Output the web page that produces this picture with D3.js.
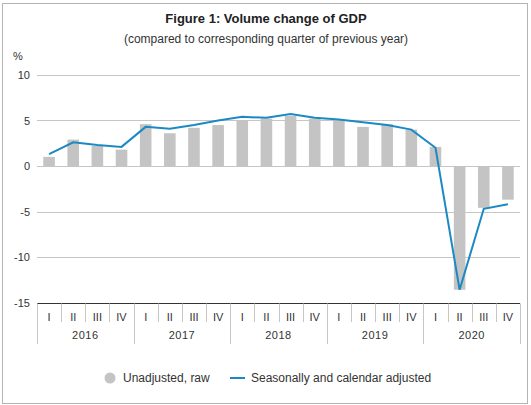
<!DOCTYPE html>
<html>
<head>
<meta charset="utf-8">
<script src="https://cdn.jsdelivr.net/npm/d3@7"></script>
<style>
  body { margin: 0; background: #fff; }
  svg { display: block; font-family: "Liberation Sans", Arial, sans-serif; }
</style>
</head>
<body>
<div id="chart"></div>
<script>
const years = ['2016', '2017', '2018', '2019', '2020'];
const quarters = ['I', 'II', 'III', 'IV'];
const raw = [1.0, 2.9, 2.2, 1.8, 4.6, 3.6, 4.2, 4.5, 5.0, 5.2, 5.5, 5.2, 5.0, 4.3, 4.6, 4.0, 2.1, -13.6, -4.6, -3.7];
const adjusted = [1.3, 2.6, 2.3, 2.1, 4.3, 4.1, 4.5, 5.0, 5.4, 5.3, 5.7, 5.3, 5.1, 4.8, 4.5, 4.0, 2.0, -13.6, -4.7, -4.2];
const yTicks = [10, 5, 0, -5, -10, -15];

const width = 531, height = 405;
const margin = {top: 75, right: 11, bottom: 102.5, left: 37};

const keys = [];
years.forEach(y => quarters.forEach(q => keys.push(`${y} ${q}`)));

const x = d3.scaleBand()
    .domain(keys)
    .range([margin.left, width - margin.right])
    .paddingInner(0.52)
    .paddingOuter(0.26);

const y = d3.scaleLinear()
    .domain([-15, 10])
    .range([height - margin.bottom, margin.top]);

const svg = d3.select('#chart').append('svg')
    .attr('width', width)
    .attr('height', height);

// frame
svg.append('rect')
    .attr('x', 2.5).attr('y', 3.5)
    .attr('width', 525).attr('height', 400)
    .attr('fill', 'none')
    .attr('stroke', '#b4b4b4');

svg.append('text')
    .attr('x', 266).attr('y', 23)
    .attr('text-anchor', 'middle')
    .attr('font-size', 13)
    .attr('font-weight', 'bold')
    .attr('fill', '#222')
    .text('Figure 1: Volume change of GDP');

svg.append('text')
    .attr('x', 266).attr('y', 43)
    .attr('text-anchor', 'middle')
    .attr('font-size', 12)
    .attr('fill', '#333')
    .text('(compared to corresponding quarter of previous year)');

svg.append('text')
    .attr('x', 13).attr('y', 60)
    .attr('font-size', 11)
    .attr('fill', '#333')
    .text('%');

// grid
svg.append('g')
  .selectAll('line')
  .data(yTicks.filter(d => d !== -15))
  .enter().append('line')
    .attr('x1', margin.left).attr('x2', width - margin.right)
    .attr('y1', d => Math.round(y(d)) + 0.5).attr('y2', d => Math.round(y(d)) + 0.5)
    .attr('stroke', '#c6c6c6');

// plain hyphen for negatives, like the original
const yAxis = d3.axisLeft(y).tickValues(yTicks).tickSize(0).tickPadding(7)
    .tickFormat(d => String(d));
svg.append('g')
    .attr('transform', `translate(${margin.left},0)`)
    .call(yAxis)
    .call(g => g.select('.domain').remove())
    .call(g => g.selectAll('text').attr('font-size', 11).attr('fill', '#333').attr('font-family', null));

// bars
svg.append('g')
  .selectAll('rect')
  .data(raw)
  .enter().append('rect')
    .attr('x', (d, i) => x(keys[i]))
    .attr('width', x.bandwidth())
    .attr('y', d => y(Math.max(0, d)))
    .attr('height', d => Math.abs(y(d) - y(0)))
    .attr('fill', '#c4c4c4');

// line
const line = d3.line()
    .x((d, i) => x(keys[i]) + x.bandwidth() / 2)
    .y(d => y(d));

svg.append('path')
    .datum(adjusted)
    .attr('d', line)
    .attr('fill', 'none')
    .attr('stroke', '#1b8ac4')
    .attr('stroke-width', 2);

// x axis
const axisY = Math.round(y(-15)) + 0.5;
const step = x.step();
const x0 = margin.left;

svg.append('line')
    .attr('x1', x0).attr('x2', width - margin.right)
    .attr('y1', axisY).attr('y2', axisY)
    .attr('stroke', '#333');

const sep = svg.append('g');
d3.range(keys.length + 1).forEach(i => {
    const xp = Math.round(x0 + i * step) + 0.5;
    sep.append('line')
        .attr('x1', xp).attr('x2', xp)
        .attr('y1', axisY).attr('y2', i % 4 === 0 ? 344 : 322)
        .attr('stroke', '#c6c6c6');
});

svg.append('g')
  .selectAll('text')
  .data(keys)
  .enter().append('text')
    .attr('x', d => x(d) + x.bandwidth() / 2)
    .attr('y', 320.5)
    .attr('text-anchor', 'middle')
    .attr('font-size', 11)
    .attr('fill', '#333')
    .text(d => d.split(' ')[1]);

svg.append('g')
  .selectAll('text')
  .data(years)
  .enter().append('text')
    .attr('x', (d, i) => x0 + step * (i * 4 + 2))
    .attr('y', 339)
    .attr('text-anchor', 'middle')
    .attr('font-size', 11)
    .attr('fill', '#333')
    .attr('letter-spacing', 0.5)
    .text(d => d);

// legend
const legend = svg.append('g').attr('transform', 'translate(0,378)');
legend.append('circle')
    .attr('cx', 110).attr('cy', 0).attr('r', 5.5)
    .attr('fill', '#c4c4c4');
legend.append('text')
    .attr('x', 123).attr('y', 4)
    .attr('font-size', 12).attr('fill', '#333')
    .text('Unadjusted, raw');
legend.append('line')
    .attr('x1', 230).attr('x2', 245)
    .attr('y1', 0).attr('y2', 0)
    .attr('stroke', '#1b8ac4').attr('stroke-width', 2);
legend.append('text')
    .attr('x', 251).attr('y', 4)
    .attr('font-size', 12).attr('fill', '#333')
    .text('Seasonally and calendar adjusted');
</script>
</body>
</html>
